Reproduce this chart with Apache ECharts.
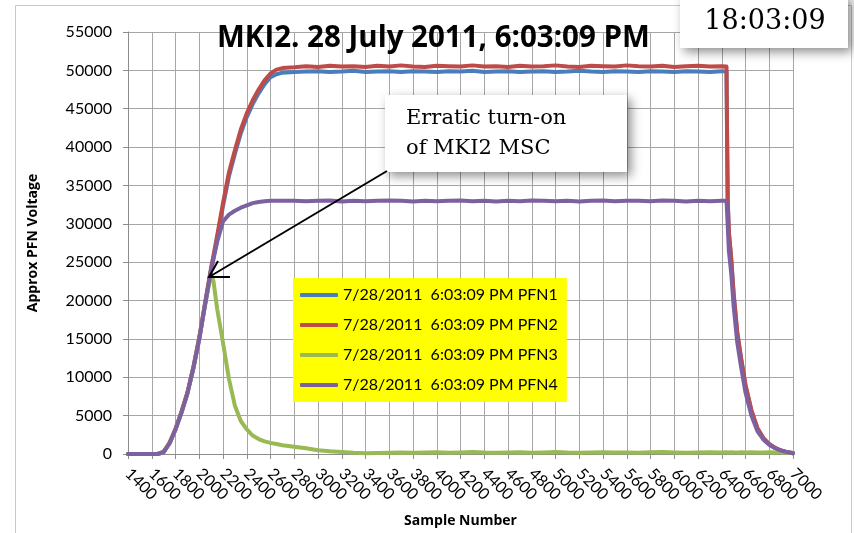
<!DOCTYPE html>
<html>
<head>
<meta charset="utf-8">
<script src="https://cdn.jsdelivr.net/npm/echarts@6/dist/echarts.min.js"></script>
<style>
html,body{margin:0;padding:0;background:#fff;overflow:hidden;}
#chart{width:854px;height:533px;}
</style>
</head>
<body>
<div id="chart"></div>
<script>
// Sample numbers (x) shared by all series
const samples = [1400,1500,1600,1650,1700,1750,1800,1850,1900,1950,2000,2050,2100,2120,2150,2200,2250,2300,2350,2400,2450,2500,2550,2600,2650,2700,
  2800,2900,3000,3100,3200,3300,3400,3500,3600,3700,3800,3900,4000,4100,4200,4300,4400,4500,4600,4700,4800,4900,5000,5100,5200,5300,5400,5500,5600,5700,5800,5900,6000,6100,6200,6300,6400,
  6440,6445,6450,6460,6480,6500,6530,6560,6600,6650,6700,6750,6800,6850,6900,6950,7000];

const pfn1 = [0,0,0,0,250,1400,3200,5400,7900,11100,15000,19500,24000,25600,28000,32300,36200,39100,41800,43900,45600,47000,48200,49100,49500,49700,
  49800,49850,49900,49800,49850,49950,49800,49850,49900,49800,49900,49850,49800,49900,49850,49950,49800,49850,49900,49800,49850,49900,49800,49850,49950,49850,49800,49900,49850,49800,49900,49850,49800,49900,49850,49800,49900,
  49850,41200,33000,28700,25200,20700,15800,12600,8900,5600,3300,2000,1250,780,430,240,100];

const pfn2 = [0,0,0,0,300,1500,3300,5500,8000,11300,15200,19800,24300,25900,28400,32700,36700,39600,42300,44400,46100,47500,48700,49600,50100,50300,
  50400,50550,50450,50600,50500,50550,50450,50600,50500,50650,50500,50450,50600,50550,50500,50650,50500,50550,50450,50600,50500,50550,50650,50500,50450,50600,50550,50500,50650,50550,50500,50600,50450,50550,50600,50500,50550,
  50500,41500,33300,29000,25500,21000,16000,12800,9000,5700,3400,2100,1300,800,450,250,100];

const pfn3 = [0,0,0,0,250,1400,3200,5400,7900,11200,15000,19600,23500,22500,19000,14500,9800,6300,4300,3200,2400,1950,1650,1450,1300,1150,
  950,750,500,350,250,150,100,120,150,200,150,180,220,150,200,250,180,150,200,230,170,200,250,180,150,210,240,180,200,150,220,250,190,160,210,230,200,
  220,200,210,190,230,200,180,220,200,240,210,190,220,200,180,170,150];

const pfn4 = [0,0,0,0,250,1400,3200,5400,7900,11200,15000,19600,24000,25400,27600,30300,31200,31700,32100,32400,32700,32850,32950,33000,33000,33000,
  33000,32950,33000,33050,32900,33000,32950,33000,33050,33000,32900,33000,32950,33000,33050,32950,33000,32900,33000,32950,33050,33000,32950,33000,32900,33000,33050,32950,33000,33000,32950,33050,33000,32900,33000,32950,33000,
  33000,31500,29800,26500,23500,19300,14600,11600,8000,5000,3000,1900,1200,750,450,250,100];

const seriesNames = ['7/28/2011  6:03:09 PM PFN1','7/28/2011  6:03:09 PM PFN2','7/28/2011  6:03:09 PM PFN3','7/28/2011  6:03:09 PM PFN4'];
const seriesValues = [pfn1, pfn2, pfn3, pfn4];
const seriesColors = ['#4a7ebb','#be4b48','#98b954','#7d60a0'];

const titleText = 'MKI2. 28 July 2011, 6:03:09 PM';
const timeText = '18:03:09';
const noteText = 'Erratic turn-on\nof MKI2 MSC';
const xName = 'Sample Number';
const yName = 'Approx PFN Voltage';

const chart = echarts.init(document.getElementById('chart'), null, {renderer:'canvas', width: 854, height: 533});
const FONT = 'Lato, "Open Sans", sans-serif';
const BFONT = '"Open Sans", Lato, sans-serif';

const option = {
  animation: false,
  backgroundColor: '#ffffff',
  title: {
    text: titleText, left: 217, top: 24, padding: 0,
    textStyle: {fontFamily: BFONT, fontSize: 29.5, fontWeight: 'bold', color: '#000'}
  },
  grid: {left: 128, right: 61, top: 32, bottom: 79, containLabel: false},
  legend: {
    orient: 'vertical', left: 293, top: 278,
    backgroundColor: '#ffff00', padding: [9, 9, 9, 7],
    itemWidth: 38, itemHeight: 4, itemGap: 14, icon: 'roundRect',
    selectedMode: false,
    textStyle: {fontFamily: FONT, fontSize: 16, color: '#000'},
    data: seriesNames
  },
  xAxis: {
    type: 'value', min: 1400, max: 7000, interval: 200,
    name: xName, nameLocation: 'middle', nameGap: 60,
    nameTextStyle: {fontFamily: BFONT, fontSize: 14, fontWeight: 'bold', color: '#000'},
    axisLine: {show: true, lineStyle: {color: '#8c8c8c', width: 1}},
    axisTick: {show: true, length: 5, lineStyle: {color: '#8c8c8c'}},
    splitLine: {show: true, lineStyle: {color: '#a6a6a6', width: 1}},
    axisLabel: {rotate: -45, margin: 17, fontFamily: FONT, fontSize: 16, color: '#000', hideOverlap: false,
      formatter: v => String(v)}
  },
  yAxis: {
    type: 'value', min: 0, max: 55000, interval: 5000,
    name: yName, nameLocation: 'middle', nameGap: 88,
    nameTextStyle: {fontFamily: BFONT, fontSize: 14, fontWeight: 'bold', color: '#000'},
    axisLine: {show: true, lineStyle: {color: '#8c8c8c', width: 1}},
    axisTick: {show: true, length: 5, lineStyle: {color: '#8c8c8c'}},
    splitLine: {show: true, lineStyle: {color: '#a6a6a6', width: 1}},
    axisLabel: {margin: 16, fontFamily: FONT, fontSize: 16, color: '#000', formatter: v => String(v)}
  },
  series: seriesNames.map((n, i) => ({
    name: n, type: 'line', showSymbol: false, symbol: 'none',
    color: seriesColors[i],
    lineStyle: {width: 4, color: seriesColors[i], cap: 'round', join: 'round'},
    data: samples.map((s, k) => [s, seriesValues[i][k]])
  })),
  graphic: [
    {type: 'rect', z: 0, silent: true, shape: {x: 15.5, y: 5.5, width: 836, height: 540},
      style: {fill: 'none', stroke: '#c8c8c8', lineWidth: 1}},
    {type: 'rect', z: 100, silent: true, shape: {x: 385, y: 95, width: 242, height: 77},
      style: {fill: '#fff', shadowBlur: 10, shadowOffsetX: 4, shadowOffsetY: 4, shadowColor: 'rgba(0,0,0,0.45)'}},
    {type: 'text', z: 101, silent: true, x: 406, y: 104,
      style: {text: noteText, font: '21px "DejaVu Serif", serif', fill: '#000', lineHeight: 30}},
    {type: 'line', z: 101, silent: true, shape: {x1: 387, y1: 171, x2: 209, y2: 277},
      style: {stroke: '#000', lineWidth: 2}},
    {type: 'polyline', z: 101, silent: true, shape: {points: [[218, 261], [209, 277], [230, 277]]},
      style: {stroke: '#000', lineWidth: 2, fill: 'none'}},
    {type: 'rect', z: 100, silent: true, shape: {x: 680, y: -6, width: 168, height: 54},
      style: {fill: '#fff', shadowBlur: 10, shadowOffsetX: 4, shadowOffsetY: 4, shadowColor: 'rgba(0,0,0,0.45)'}},
    {type: 'text', z: 101, silent: true, x: 765, y: 22,
      style: {text: timeText, font: '27px "DejaVu Serif", serif', fill: '#000', align: 'center', verticalAlign: 'middle'}}
  ]
};
chart.setOption(option);
</script>
</body>
</html>
